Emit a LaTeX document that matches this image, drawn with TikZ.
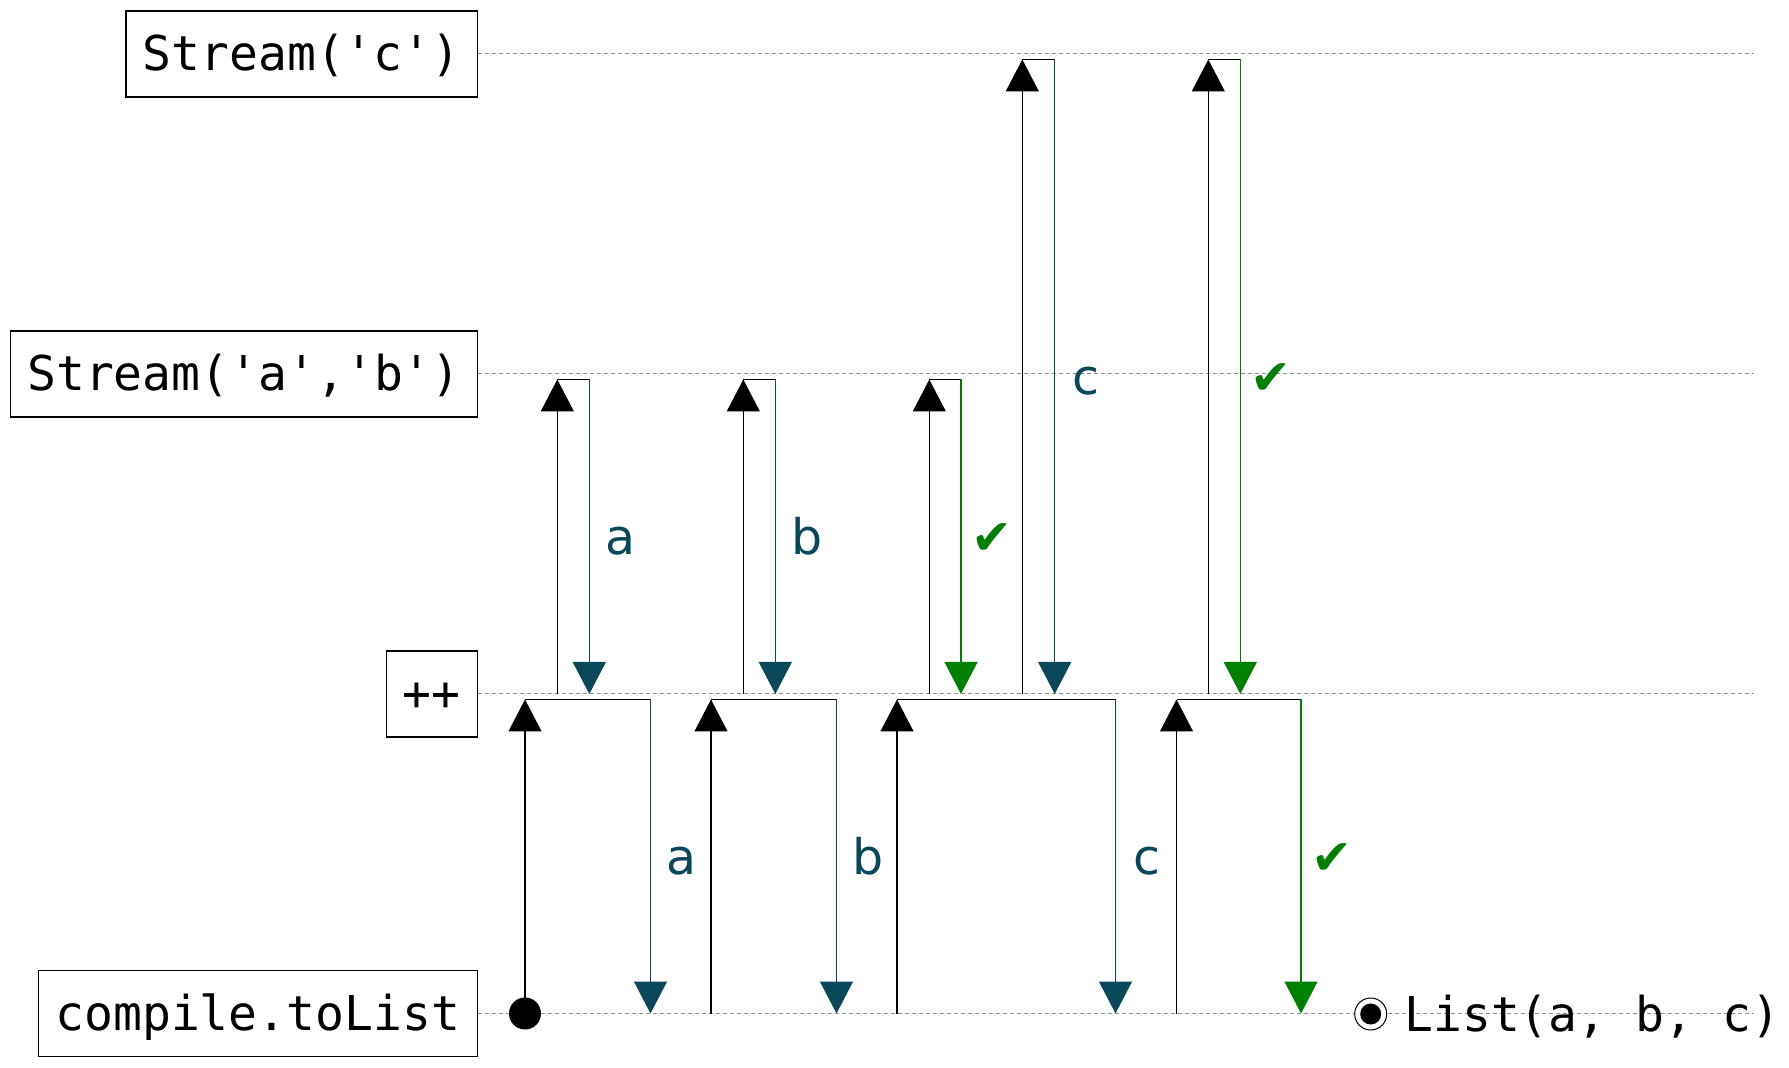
\documentclass[tikz,border=0pt]{standalone}
\usepackage{fontspec}
\setmainfont{DejaVu Sans}
\setmonofont{DejaVu Sans Mono}
\usetikzlibrary{arrows.meta}
\definecolor{resp}{RGB}{8,72,90}
\definecolor{okgreen}{RGB}{0,128,0}
\definecolor{lanegray}{RGB}{140,140,140}
\begin{document}
\begin{tikzpicture}[x=0.5pt,y=-0.5pt,
  stage/.style={draw=black,line width=0.65pt,fill=white,anchor=east,
    font=\ttfamily\fontsize{24}{28}\selectfont,minimum height=43pt,
    inner xsep=0pt,inner ysep=0pt,text height=18pt,text depth=1pt},
  lane/.style={draw=lanegray,line width=0.5pt,dash pattern=on 2pt off 1.5pt},
  reqline/.style={draw=black,line width=0.65pt},
  uptip/.style={-{Triangle[width=16.5pt,length=16pt]}},
  respline/.style={draw=#1,line width=0.65pt,-{Triangle[width=16.5pt,length=16pt]}},
  lbl/.style={font=\fontsize{24.5}{28}\selectfont,text=#1,anchor=base,inner sep=0pt},
  result/.style={font=\ttfamily\fontsize{24}{28}\selectfont,anchor=base west,inner sep=0pt}
]
\useasboundingbox[fill=white] (0,0) rectangle (1789,1068);

% stages
\node[stage,minimum width=175.7pt] (sc) at (478,54) {Stream('c')};
\node[stage,minimum width=233.3pt] (sab) at (478,374) {Stream('a','b')};
\node[stage,minimum width=45.6pt] (cat) at (478,694) {++};
\node[stage,minimum width=219.6pt] (tl) at (478,1013.5) {compile.toList};

% lanes
\coordinate (sc-end) at (1754,54);
\coordinate (sab-end) at (1754,374);
\coordinate (cat-end) at (1754,694);
\coordinate (tl-end) at (1754,1013.5);
\draw[lane] (sc.east) -- (sc-end);
\draw[lane] (sab.east) -- (sab-end);
\draw[lane] (cat.east) -- (cat-end);
\draw[lane] (tl.east) -- (tl-end);

% request / response pairs
\foreach \n/\xu/\xd/\yb/\yt/\col/\txt/\lx/\ly in {
  c1/525/650.5/1013.5/699.5/resp/a/682/875,
  c2/711/836.5/1013.5/699.5/resp/b/868/875,
  c3/897/1115.5/1013.5/699.5/resp/c/1147/875,
  c4/1176.5/1301/1013.5/699.5/okgreen/✔/1332/875,
  p1/557.3/589.3/694/379.5/resp/a/620.5/555,
  p2/743.3/775.3/694/379.5/resp/b/807/555,
  p3/929.3/961/694/379.5/okgreen/✔/992.5/555,
  p4/1022.3/1054.7/694/59.5/resp/c/1086/395,
  p5/1208.3/1240.3/694/59.5/okgreen/✔/1271/395}
{
  \coordinate (\n-b) at (\xu,\yb);
  \coordinate (\n-t) at (\xu,\yt);
  \coordinate (\n-h) at (\xd,\yt);
  \coordinate (\n-e) at (\xd,\yb);
  \draw[reqline,uptip] (\n-b) -- (\n-t);
  \draw[reqline] (\n-t) -- (\n-h);
  \draw[respline=\col] (\n-h) -- (\n-e);
  \node[lbl=\col] (\n-l) at (\lx,\ly) {\txt};
}

% start dot
\node[circle,fill=black,inner sep=0pt,minimum size=16pt] (start) at (525,1013.5) {};

% result
\node[circle,draw=black,line width=0.5pt,fill=white,inner sep=0pt,minimum size=16pt] (done) at (1370.7,1014) {};
\node[circle,fill=black,inner sep=0pt,minimum size=10.5pt] (donein) at (done.center) {};
\node[result] (res) at (1404,1031) {List(a, b, c)};
\end{tikzpicture}
\end{document}
